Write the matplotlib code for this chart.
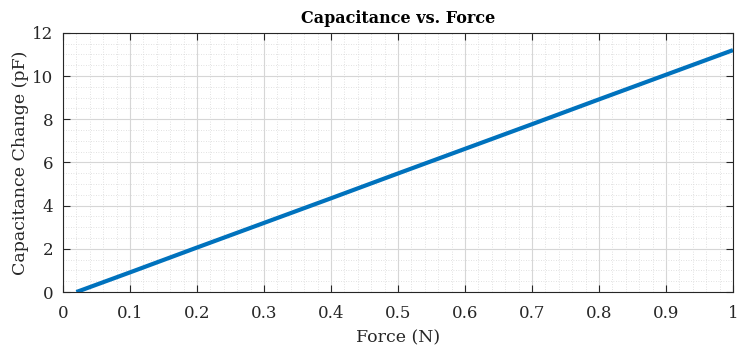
import numpy as np
import matplotlib
matplotlib.use("Agg")
import matplotlib.pyplot as plt
from matplotlib.ticker import MultipleLocator

# values
force = [0.02, 0.1, 0.2, 0.3, 0.4, 0.5, 0.6, 0.7, 0.8, 0.9, 1.0]
cap_change = [0.0, 0.91, 2.06, 3.2, 4.34, 5.49, 6.63, 7.77, 8.92, 10.06, 11.2]

plt.rcParams['font.family'] = ['DejaVu Serif']

fig = plt.figure(figsize=(7.37, 3.46), dpi=100)
ax = fig.add_axes([0.0855, 0.156, 0.909, 0.749])

ax.plot(force, cap_change, color="#0072BD", lw=3, solid_capstyle="butt")

ax.set_xlim(0, 1)
ax.set_ylim(0, 12)
ax.xaxis.set_minor_locator(MultipleLocator(0.02))
ax.yaxis.set_major_locator(MultipleLocator(2))
ax.yaxis.set_minor_locator(MultipleLocator(0.5))
ax.set_xticks(np.arange(0, 1.01, 0.1))
ax.set_xticklabels(["0", "0.1", "0.2", "0.3", "0.4", "0.5", "0.6", "0.7", "0.8", "0.9", "1"])

ax.grid(which="major", color="#d6d6d6", lw=0.8)
ax.grid(which="minor", color="#d8d8d8", lw=0.6, linestyle=(0, (1, 2)))
ax.set_axisbelow(True)

ax.tick_params(which="major", direction="in", length=5, top=True, right=True,
               labelsize=12, colors="#262626", width=0.8)
ax.tick_params(axis="x", which="major", pad=9)
ax.tick_params(axis="y", which="major", pad=7)
ax.tick_params(which="minor", length=0)
for s in ax.spines.values():
    s.set_color("#262626")
    s.set_linewidth(0.8)

ax.set_xlabel("Force (N)", fontsize=12.5, color="#262626", labelpad=6)
ax.set_ylabel("Capacitance Change (pF)", fontsize=12.5, color="#262626", labelpad=2)
ax.set_title("Capacitance vs. Force", fontsize=11.5, fontweight="bold", pad=7)

plt.savefig("out.png", dpi=100)
